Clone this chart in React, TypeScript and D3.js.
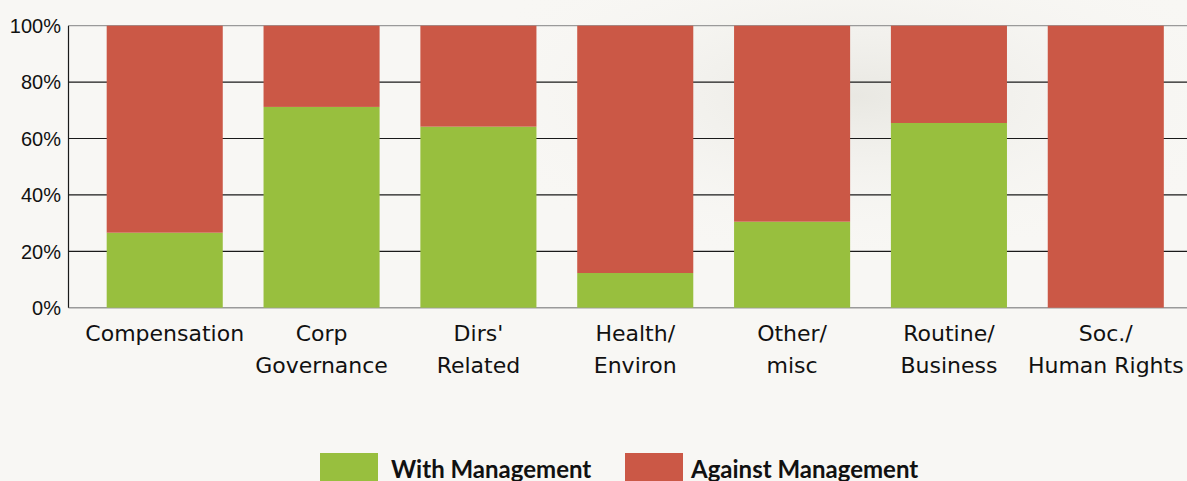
import React from "react";
import * as d3 from "d3";

const categories: string[][] = [
  ["Compensation"],
  ["Corp", "Governance"],
  ["Dirs'", "Related"],
  ["Health/", "Environ"],
  ["Other/", "misc"],
  ["Routine/", "Business"],
  ["Soc./", "Human Rights"],
];
const withMgmt = [26.6, 71.2, 64.2, 12.3, 30.5, 65.5, 0];
const againstMgmt = withMgmt.map((v) => 100 - v);
const yTicks = [0, 20, 40, 60, 80, 100];
const seriesNames = ["With Management", "Against Management"];
const colors = ["#98bf3e", "#cb5846"];

const W = 1187;
const H = 481;
const left = 68.5;
const top = 25.7;
const bottom = 307.7;

export default function App() {
  const keys = categories.map((c) => c.join(" "));
  const x = d3
    .scaleBand<string>()
    .domain(keys)
    .range([left, 1202])
    .paddingInner(0.26)
    .paddingOuter(0.2435);
  const y = d3.scaleLinear().domain([0, 100]).range([bottom, top]);

  return (
    <svg
      width={W}
      height={H}
      style={{ position: "absolute", left: 0, top: 0, display: "block" }}
    >
      <defs>
        <radialGradient id="bgshade" cx="0.72" cy="0.2" r="0.35">
          <stop offset="0" stopColor="#e6e5df" stopOpacity="0.85" />
          <stop offset="1" stopColor="#f8f7f4" stopOpacity="0" />
        </radialGradient>
      </defs>
      <rect x={0} y={0} width={W} height={H} fill="#f8f7f4" />
      <rect x={0} y={0} width={W} height={H} fill="url(#bgshade)" />

      {yTicks.map((t) => (
        <g key={t}>
          {t > 0 && t < 100 && (
            <line x1={left} x2={W} y1={y(t)} y2={y(t)} stroke="#1a1a1a" strokeWidth={1.2} />
          )}
          <text
            x={61}
            y={y(t)}
            dy="0.36em"
            textAnchor="end"
            fontFamily="'Liberation Sans', Arial, sans-serif"
            fontSize={20}
            fill="#111"
          >
            {t}%
          </text>
        </g>
      ))}
      <line x1={left} x2={W} y1={y(100)} y2={y(100)} stroke="#9a9a9a" strokeWidth={1.2} />
      <line x1={left} x2={W} y1={y(0)} y2={y(0)} stroke="#9a9a9a" strokeWidth={1.5} />
      <line x1={left} x2={left} y1={y(100)} y2={y(0)} stroke="#1a1a1a" strokeWidth={1.2} />

      {keys.map((k, i) => (
        <g key={k}>
          <rect
            x={x(k)}
            width={x.bandwidth()}
            y={y(withMgmt[i])}
            height={y(0) - y(withMgmt[i])}
            fill={colors[0]}
          />
          <rect
            x={x(k)}
            width={x.bandwidth()}
            y={y(withMgmt[i] + againstMgmt[i])}
            height={y(withMgmt[i]) - y(withMgmt[i] + againstMgmt[i])}
            fill={colors[1]}
          />
        </g>
      ))}

      {categories.map((c, i) => (
        <text
          key={i}
          textAnchor="middle"
          fontFamily="'DejaVu Sans', sans-serif"
          fontSize={22}
          fill="#111"
        >
          {c.map((line, j) => (
            <tspan key={j} x={(x(keys[i]) as number) + x.bandwidth() / 2} y={341 + j * 32}>
              {line}
            </tspan>
          ))}
        </text>
      ))}

      {seriesNames.map((s, i) => {
        const lx = [320, 625][i];
        return (
          <g key={s}>
            <rect x={lx} y={453} width={58} height={30} fill={colors[i]} />
            <text
              x={lx + [71, 66][i]}
              y={478}
              fontFamily="Lato, sans-serif"
              fontWeight={700}
              fontSize={24}
              fill="#111"
            >
              {s}
            </text>
          </g>
        );
      })}
    </svg>
  );
}
